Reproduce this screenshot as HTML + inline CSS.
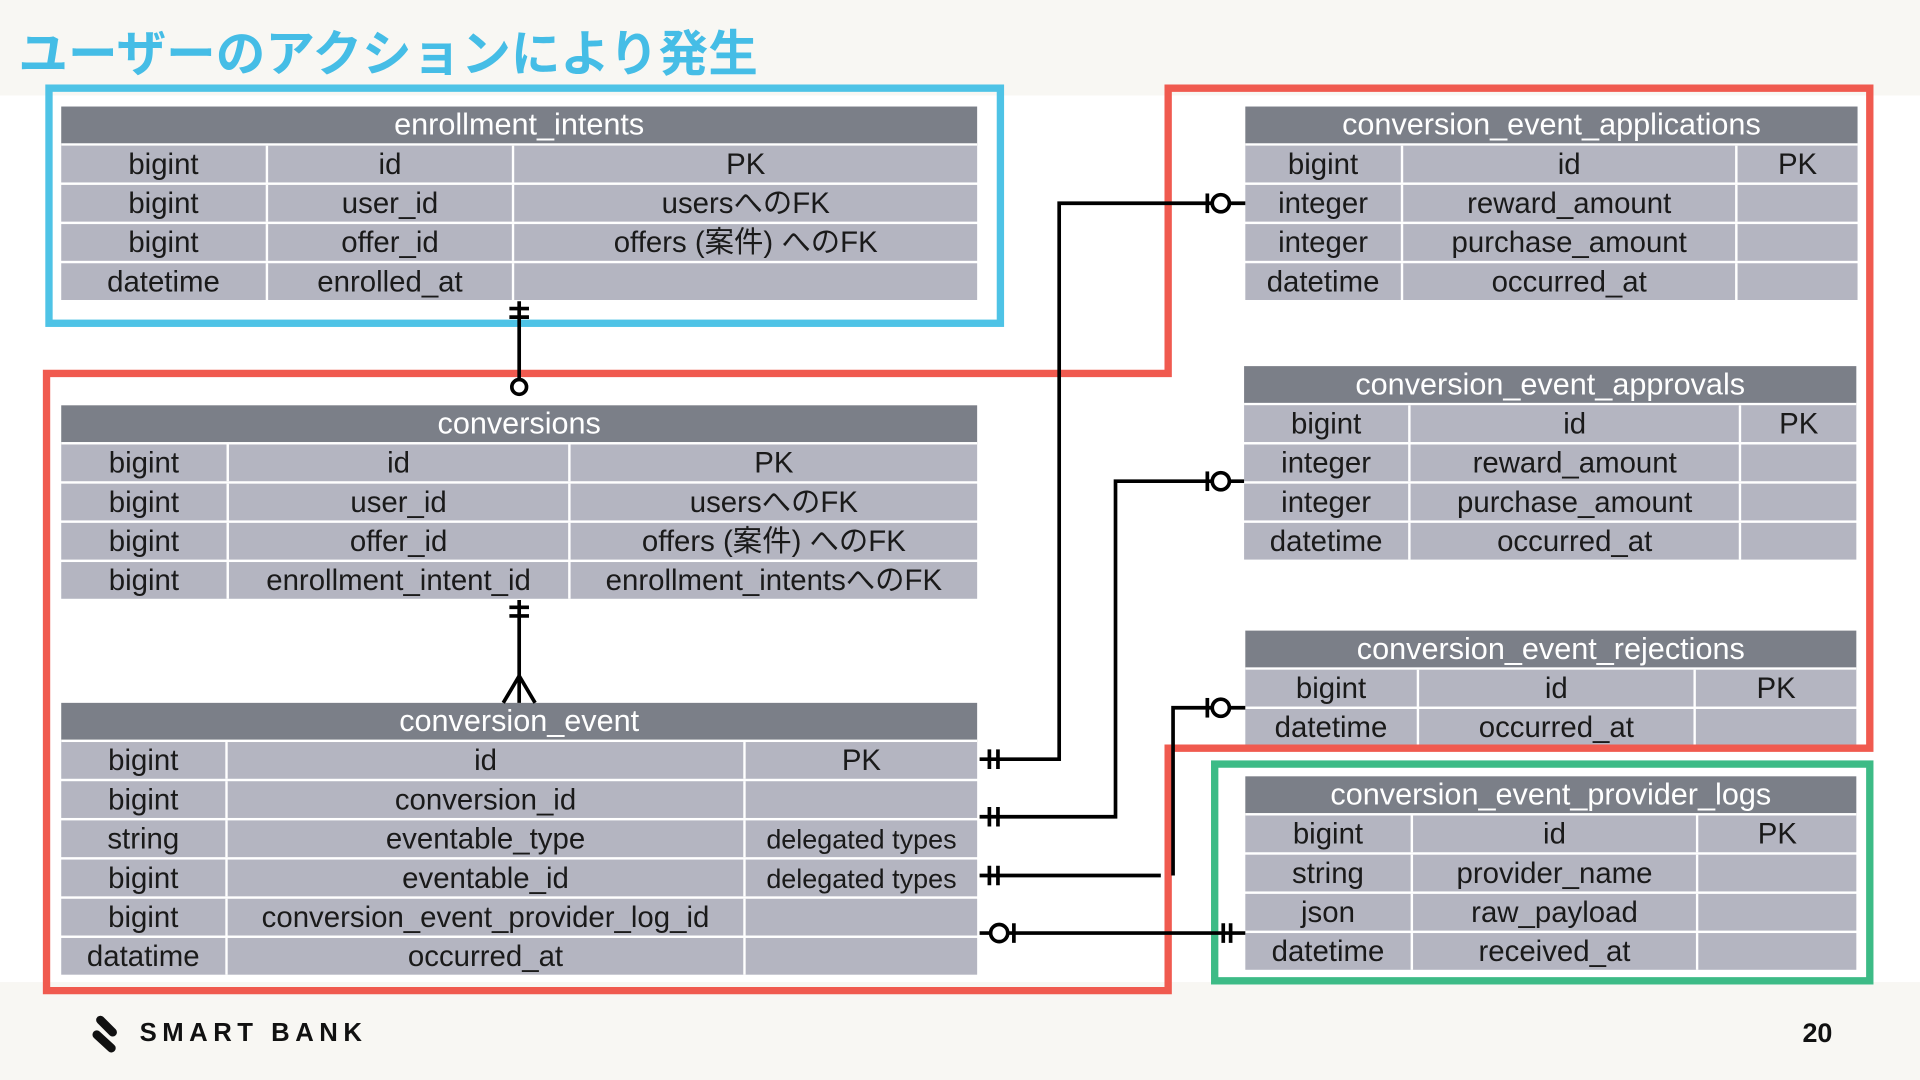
<!DOCTYPE html>
<html><head><meta charset="utf-8"><style>
html,body{margin:0;padding:0;width:1920px;height:1080px;overflow:hidden;background:#fff}
#s{position:absolute;left:0;top:0;width:1568px;height:882px;transform:scale(1.22449);transform-origin:0 0;font-family:"Liberation Sans","Noto Sans CJK JP",sans-serif}
.band{position:absolute;left:0;width:1568px;background:#f8f7f3}
.t{position:absolute}
.h{height:30px;background:#7b7f88;color:#fff;font-size:25px;line-height:31px;text-align:center;border-bottom:2px solid #fff}
.r{display:flex;height:30px;border-bottom:2px solid #fff}
.r div{background:#b4b5c1;color:#1a1a1a;font-size:24px;line-height:31px;text-align:center;border-right:2px solid #fff;white-space:nowrap;overflow:visible}
.r div:last-child{border-right:none}
.title{position:absolute;left:15px;top:11px;font-size:40.5px;font-weight:bold;color:#45bde6;white-space:nowrap}
</style></head><body><div id="s">
<div class="band" style="top:0;height:78px"></div>
<div class="band" style="top:802px;height:80px"></div>
<div class="title">ユーザーのアクションにより発生</div>

<div class="t" style="left:50px;top:87px;width:748px">
<div class="h">enrollment_intents</div>
<div class="r"><div style="width:167px">bigint</div><div style="width:199px">id</div><div style="flex:1">PK</div></div>
<div class="r"><div style="width:167px">bigint</div><div style="width:199px">user_id</div><div style="flex:1">usersへのFK</div></div>
<div class="r"><div style="width:167px">bigint</div><div style="width:199px">offer_id</div><div style="flex:1">offers (案件) へのFK</div></div>
<div class="r"><div style="width:167px">datetime</div><div style="width:199px">enrolled_at</div><div style="flex:1"></div></div>
</div>

<div class="t" style="left:50px;top:331px;width:748px">
<div class="h">conversions</div>
<div class="r"><div style="width:135px">bigint</div><div style="width:277px">id</div><div style="flex:1">PK</div></div>
<div class="r"><div style="width:135px">bigint</div><div style="width:277px">user_id</div><div style="flex:1">usersへのFK</div></div>
<div class="r"><div style="width:135px">bigint</div><div style="width:277px">offer_id</div><div style="flex:1">offers (案件) へのFK</div></div>
<div class="r"><div style="width:135px">bigint</div><div style="width:277px">enrollment_intent_id</div><div style="flex:1">enrollment_intentsへのFK</div></div>
</div>

<div class="t" style="left:50px;top:574px;width:748px">
<div class="h">conversion_event</div>
<div class="r"><div style="width:134px">bigint</div><div style="width:421px">id</div><div style="flex:1">PK</div></div>
<div class="r"><div style="width:134px">bigint</div><div style="width:421px">conversion_id</div><div style="flex:1"></div></div>
<div class="r"><div style="width:134px">string</div><div style="width:421px">eventable_type</div><div style="flex:1;font-size:22px">delegated types</div></div>
<div class="r"><div style="width:134px">bigint</div><div style="width:421px">eventable_id</div><div style="flex:1;font-size:22px">delegated types</div></div>
<div class="r"><div style="width:134px">bigint</div><div style="width:421px">conversion_event_provider_log_id</div><div style="flex:1"></div></div>
<div class="r"><div style="width:134px">datatime</div><div style="width:421px">occurred_at</div><div style="flex:1"></div></div>
</div>

<div class="t" style="left:1017px;top:87px;width:500px">
<div class="h">conversion_event_applications</div>
<div class="r"><div style="width:127px">bigint</div><div style="width:271px">id</div><div style="flex:1">PK</div></div>
<div class="r"><div style="width:127px">integer</div><div style="width:271px">reward_amount</div><div style="flex:1"></div></div>
<div class="r"><div style="width:127px">integer</div><div style="width:271px">purchase_amount</div><div style="flex:1"></div></div>
<div class="r"><div style="width:127px">datetime</div><div style="width:271px">occurred_at</div><div style="flex:1"></div></div>
</div>

<div class="t" style="left:1016px;top:299px;width:500px">
<div class="h">conversion_event_approvals</div>
<div class="r"><div style="width:134px">bigint</div><div style="width:268px">id</div><div style="flex:1">PK</div></div>
<div class="r"><div style="width:134px">integer</div><div style="width:268px">reward_amount</div><div style="flex:1"></div></div>
<div class="r"><div style="width:134px">integer</div><div style="width:268px">purchase_amount</div><div style="flex:1"></div></div>
<div class="r"><div style="width:134px">datetime</div><div style="width:268px">occurred_at</div><div style="flex:1"></div></div>
</div>

<div class="t" style="left:1017px;top:515px;width:499px">
<div class="h">conversion_event_rejections</div>
<div class="r"><div style="width:140px">bigint</div><div style="width:224px">id</div><div style="flex:1">PK</div></div>
<div class="r"><div style="width:140px">datetime</div><div style="width:224px">occurred_at</div><div style="flex:1"></div></div>
</div>

<div class="t" style="left:1017px;top:634px;width:499px">
<div class="h">conversion_event_provider_logs</div>
<div class="r"><div style="width:135px">bigint</div><div style="width:231px">id</div><div style="flex:1">PK</div></div>
<div class="r"><div style="width:135px">string</div><div style="width:231px">provider_name</div><div style="flex:1"></div></div>
<div class="r"><div style="width:135px">json</div><div style="width:231px">raw_payload</div><div style="flex:1"></div></div>
<div class="r"><div style="width:135px">datetime</div><div style="width:231px">received_at</div><div style="flex:1"></div></div>
</div>

<svg width="1568" height="882" style="position:absolute;left:0;top:0" fill="none">
<rect x="40" y="72" width="777" height="192" stroke="#4ec3e6" stroke-width="6"/>
<path d="M954 72 H1527 V611 H954 V809 H38 V305 H954 Z" stroke="#f05a4f" stroke-width="6" stroke-linejoin="miter"/>
<rect x="992" y="624" width="535" height="177" stroke="#3dbb86" stroke-width="6"/>
<g stroke="#000" stroke-width="3">
<path d="M424 246 V310"/><path d="M416 252 H432 M416 259 H432"/><circle cx="424" cy="316" r="6" fill="#fff"/>
<path d="M424 490 V574"/><path d="M416 496 H432 M416 503 H432"/><path d="M424 552 L411 574 M424 552 L437 574"/>
<path d="M800 620 H865 V166 H1017"/><path d="M808 612 V628 M815 612 V628"/><path d="M986 158 V174"/><circle cx="997" cy="166" r="7" fill="#fff"/>
<path d="M800 667 H911 V393 H1016"/><path d="M808 659 V675 M815 659 V675"/><path d="M986 385 V401"/><circle cx="997" cy="393" r="7" fill="#fff"/>
<path d="M800 715 H948"/><path d="M958 715 V578 H1017"/><path d="M808 707 V723 M815 707 V723"/><path d="M986 570 V586"/><circle cx="997" cy="578" r="7" fill="#fff"/>
<path d="M800 762 H1017"/><circle cx="816" cy="762" r="7" fill="#fff"/><path d="M828 754 V770"/><path d="M999 754 V770 M1005 754 V770"/>
</g>
<g stroke="#111" stroke-width="7" stroke-linecap="round"><path d="M82 833 L92 843"/><path d="M79 845 L91 856"/></g>
<text x="114" y="850" font-family="Liberation Sans" font-weight="bold" font-size="21" letter-spacing="4.5" fill="#111">SMART BANK</text>
<text x="1472" y="851" font-family="Liberation Sans" font-weight="bold" font-size="22" fill="#111">20</text>
</svg>
</div></body></html>
